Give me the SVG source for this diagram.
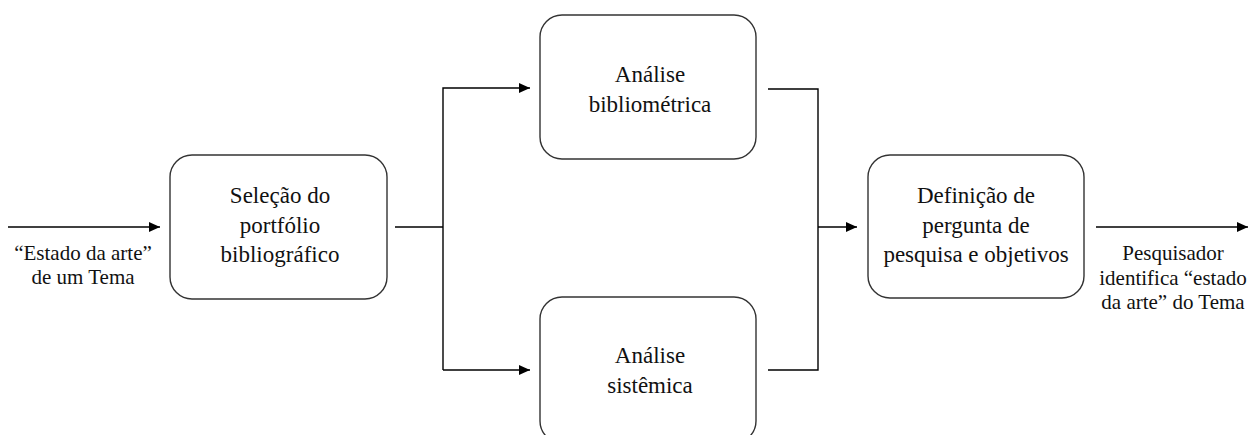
<svg xmlns="http://www.w3.org/2000/svg" width="1255" height="435" viewBox="0 0 1255 435">
<style>
.box{fill:#fff;stroke:#333;stroke-width:1.4}
.ln{fill:none;stroke:#000;stroke-width:1.4}
text{font-family:"Liberation Serif","Times New Roman",serif;fill:#111;text-anchor:middle}
.t{font-size:23px}
.l{font-size:21px}
</style>
<defs>
<marker id="ah" markerWidth="12" markerHeight="10" refX="11" refY="5" orient="auto" markerUnits="userSpaceOnUse">
<path d="M0,0 L11,5 L0,10 Z" fill="#000"/>
</marker>
</defs>
<rect width="1255" height="435" fill="#fff"/>
<g id="connectors">
<line class="ln" x1="8" y1="227" x2="160" y2="227" marker-end="url(#ah)"/>
<path class="ln" d="M395,227 H443"/>
<path class="ln" d="M443,370 V88 H530" marker-end="url(#ah)"/>
<path class="ln" d="M443,370 H530" marker-end="url(#ah)"/>
<path class="ln" d="M768,89 H818 V370 H768"/>
<path class="ln" d="M818,227 H857" marker-end="url(#ah)"/>
<line class="ln" x1="1096" y1="227" x2="1248" y2="227" marker-end="url(#ah)"/>
</g>
<g id="label-in">
<text class="l" x="83" y="260">“Estado da arte”</text>
<text class="l" x="83" y="284">de um Tema</text>
</g>
<g id="node-selecao">
<rect class="box" x="170" y="155" width="217" height="144" rx="22"/>
<text class="t" x="280" y="203">Seleção do</text>
<text class="t" x="280" y="233">portfólio</text>
<text class="t" x="280" y="262">bibliográfico</text>
</g>
<g id="node-bibliometrica">
<rect class="box" x="540" y="15" width="216" height="144" rx="22"/>
<text class="t" x="650" y="82">Análise</text>
<text class="t" x="650" y="112">bibliométrica</text>
</g>
<g id="node-sistemica">
<rect class="box" x="540" y="297" width="216" height="146" rx="22"/>
<text class="t" x="650" y="363">Análise</text>
<text class="t" x="650" y="393">sistêmica</text>
</g>
<g id="node-definicao">
<rect class="box" x="868" y="155" width="216" height="143" rx="22"/>
<text class="t" x="976" y="203">Definição de</text>
<text class="t" x="976" y="233">pergunta de</text>
<text class="t" x="976" y="262">pesquisa e objetivos</text>
</g>
<g id="label-out">
<text class="l" x="1173" y="260">Pesquisador</text>
<text class="l" x="1173" y="285">identifica “estado</text>
<text class="l" x="1173" y="309">da arte” do Tema</text>
</g>
</svg>
